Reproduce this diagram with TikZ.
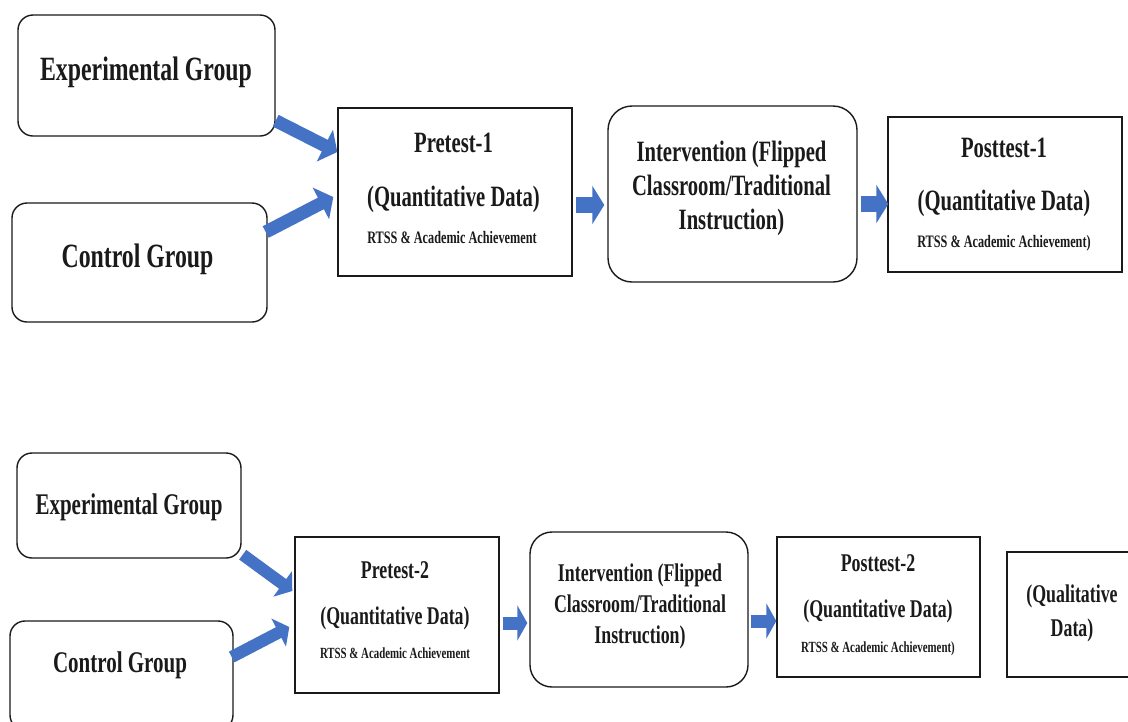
\documentclass[tikz,border=0pt]{standalone}
\usepackage{fontspec}
\setmainfont{Liberation Serif}[FakeStretch=0.7]
\usetikzlibrary{arrows.meta}
\definecolor{arrowblue}{HTML}{4472C4}
\definecolor{ink}{HTML}{1A1A1A}
\begin{document}
\begin{tikzpicture}[x=1pt,y=-1pt,
  roundbox/.style={draw=ink,line width=1.4pt,rounded corners=15pt,inner sep=0pt,anchor=center},
  plainbox/.style={draw=ink,line width=1.4pt,inner sep=0pt,anchor=center},
  txt/.style={anchor=base,inner sep=0pt,text=ink,font=\bfseries},
  harrow/.style={arrowblue,line width=16pt,-{Triangle[width=38pt,length=12pt]}},
  harrowsm/.style={arrowblue,line width=13pt,-{Triangle[width=35pt,length=10pt]}},
  darrow/.style={arrowblue,line width=13pt,-{Triangle[width=35pt,length=14pt]}},
  darrowsm/.style={arrowblue,line width=12pt,-{Triangle[width=31pt,length=12pt]}},
  big/.style={font=\bfseries\fontsize{34}{40}\selectfont},
  mid/.style={font=\bfseries\fontsize{29.5}{34}\selectfont},
  midsm/.style={font=\bfseries\fontsize{25.5}{30}\selectfont},
  tiny1/.style={font=\bfseries\fontsize{17.5}{21}\selectfont},
  tiny2/.style={font=\bfseries\fontsize{15.5}{19}\selectfont}]
\useasboundingbox (0,0) rectangle (1128,721);
\fill[white] (0,0) rectangle (1128,721);

% ---------- first study phase ----------
\node[roundbox,minimum width=257pt,minimum height=121pt] (eg1) at (146.5,75.5) {};
\node[txt,big] (eg1t) at (146,80) {Experimental Group};

\node[roundbox,minimum width=255pt,minimum height=119pt] (cg1) at (139.5,262.5) {};
\node[txt,big] (cg1t) at (137.5,267) {Control Group};

\node[plainbox,minimum width=234pt,minimum height=168pt] (pre1) at (455,192) {};
\node[txt,mid] (pre1a) at (453.5,152) {Pretest-1};
\node[txt,mid] (pre1b) at (453.5,206) {(Quantitative Data)};
\node[txt,tiny1] (pre1c) at (452,243) {RTSS \& Academic Achievement};

\node[roundbox,minimum width=249pt,minimum height=176pt,rounded corners=24pt] (int1) at (732.5,194) {};
\node[txt,mid] (int1a) at (731.5,161) {Intervention (Flipped};
\node[txt,mid] (int1b) at (731.5,195) {Classroom/Traditional};
\node[txt,mid] (int1c) at (731.5,229) {Instruction)};

\node[plainbox,minimum width=234pt,minimum height=155pt] (post1) at (1005,194.5) {};
\node[txt,mid] (post1a) at (1004,157) {Posttest-1};
\node[txt,mid] (post1b) at (1004,210) {(Quantitative Data)};
\node[txt,tiny1] (post1c) at (1004,247) {RTSS \& Academic Achievement)};

\draw[darrow] ([yshift=16pt]eg1.south east) -- ([yshift=40pt]pre1.west);
\draw[darrow] ([xshift=-2pt,yshift=30.5pt]cg1.east) -- ([xshift=-4pt,yshift=-5pt]pre1.west);
\draw[harrow] ([xshift=3pt,yshift=-13pt]pre1.east) -- ([xshift=-3pt,yshift=-11pt]int1.west);
\draw[harrow] ([xshift=3pt,yshift=-10pt]int1.east) -- ([xshift=1pt,yshift=-9.5pt]post1.west);

% ---------- second study phase ----------
\node[roundbox,minimum width=224pt,minimum height=105pt] (eg2) at (129,505.5) {};
\node[txt,font=\bfseries\fontsize{30}{36}\selectfont] (eg2t) at (129,514) {Experimental Group};

\node[roundbox,minimum width=223pt,minimum height=109pt] (cg2) at (121.5,675.5) {};
\node[txt,font=\bfseries\fontsize{30}{36}\selectfont] (cg2t) at (120,672) {Control Group};

\node[plainbox,minimum width=204pt,minimum height=156pt] (pre2) at (397,615) {};
\node[txt,midsm] (pre2a) at (395,578) {Pretest-2};
\node[txt,midsm] (pre2b) at (395,624) {(Quantitative Data)};
\node[txt,tiny2] (pre2c) at (395,658) {RTSS \& Academic Achievement};

\node[roundbox,minimum width=218pt,minimum height=155pt,rounded corners=22pt] (int2) at (639,609.5) {};
\node[txt,midsm] (int2a) at (640,581) {Intervention (Flipped};
\node[txt,midsm] (int2b) at (640,612) {Classroom/Traditional};
\node[txt,midsm] (int2c) at (640,643) {Instruction)};

\node[plainbox,minimum width=203pt,minimum height=140pt] (post2) at (878.5,607) {};
\node[txt,midsm] (post2a) at (878,571) {Posttest-2};
\node[txt,midsm] (post2b) at (878,617) {(Quantitative Data)};
\node[txt,tiny2] (post2c) at (878,652) {RTSS \& Academic Achievement)};

\node[plainbox,minimum width=133pt,minimum height=125pt] (qual) at (1073.5,614.5) {};
\node[txt,midsm] (quala) at (1072,602) {(Qualitative};
\node[txt,midsm] (qualb) at (1072,636) {Data)};

\draw[darrowsm] ([xshift=1pt,yshift=4pt]eg2.south east) -- ([xshift=-2pt,yshift=24pt]pre2.west);
\draw[darrowsm] ([xshift=-2pt,yshift=18.5pt]cg2.east) -- ([xshift=-5pt,yshift=-12pt]pre2.west);
\draw[harrowsm] ([xshift=3pt,yshift=-8pt]pre2.east) -- ([xshift=-2pt,yshift=-13.5pt]int2.west);
\draw[harrowsm] ([xshift=2pt,yshift=-11.5pt]int2.east) -- ([yshift=-14pt]post2.west);
\end{tikzpicture}
\end{document}
